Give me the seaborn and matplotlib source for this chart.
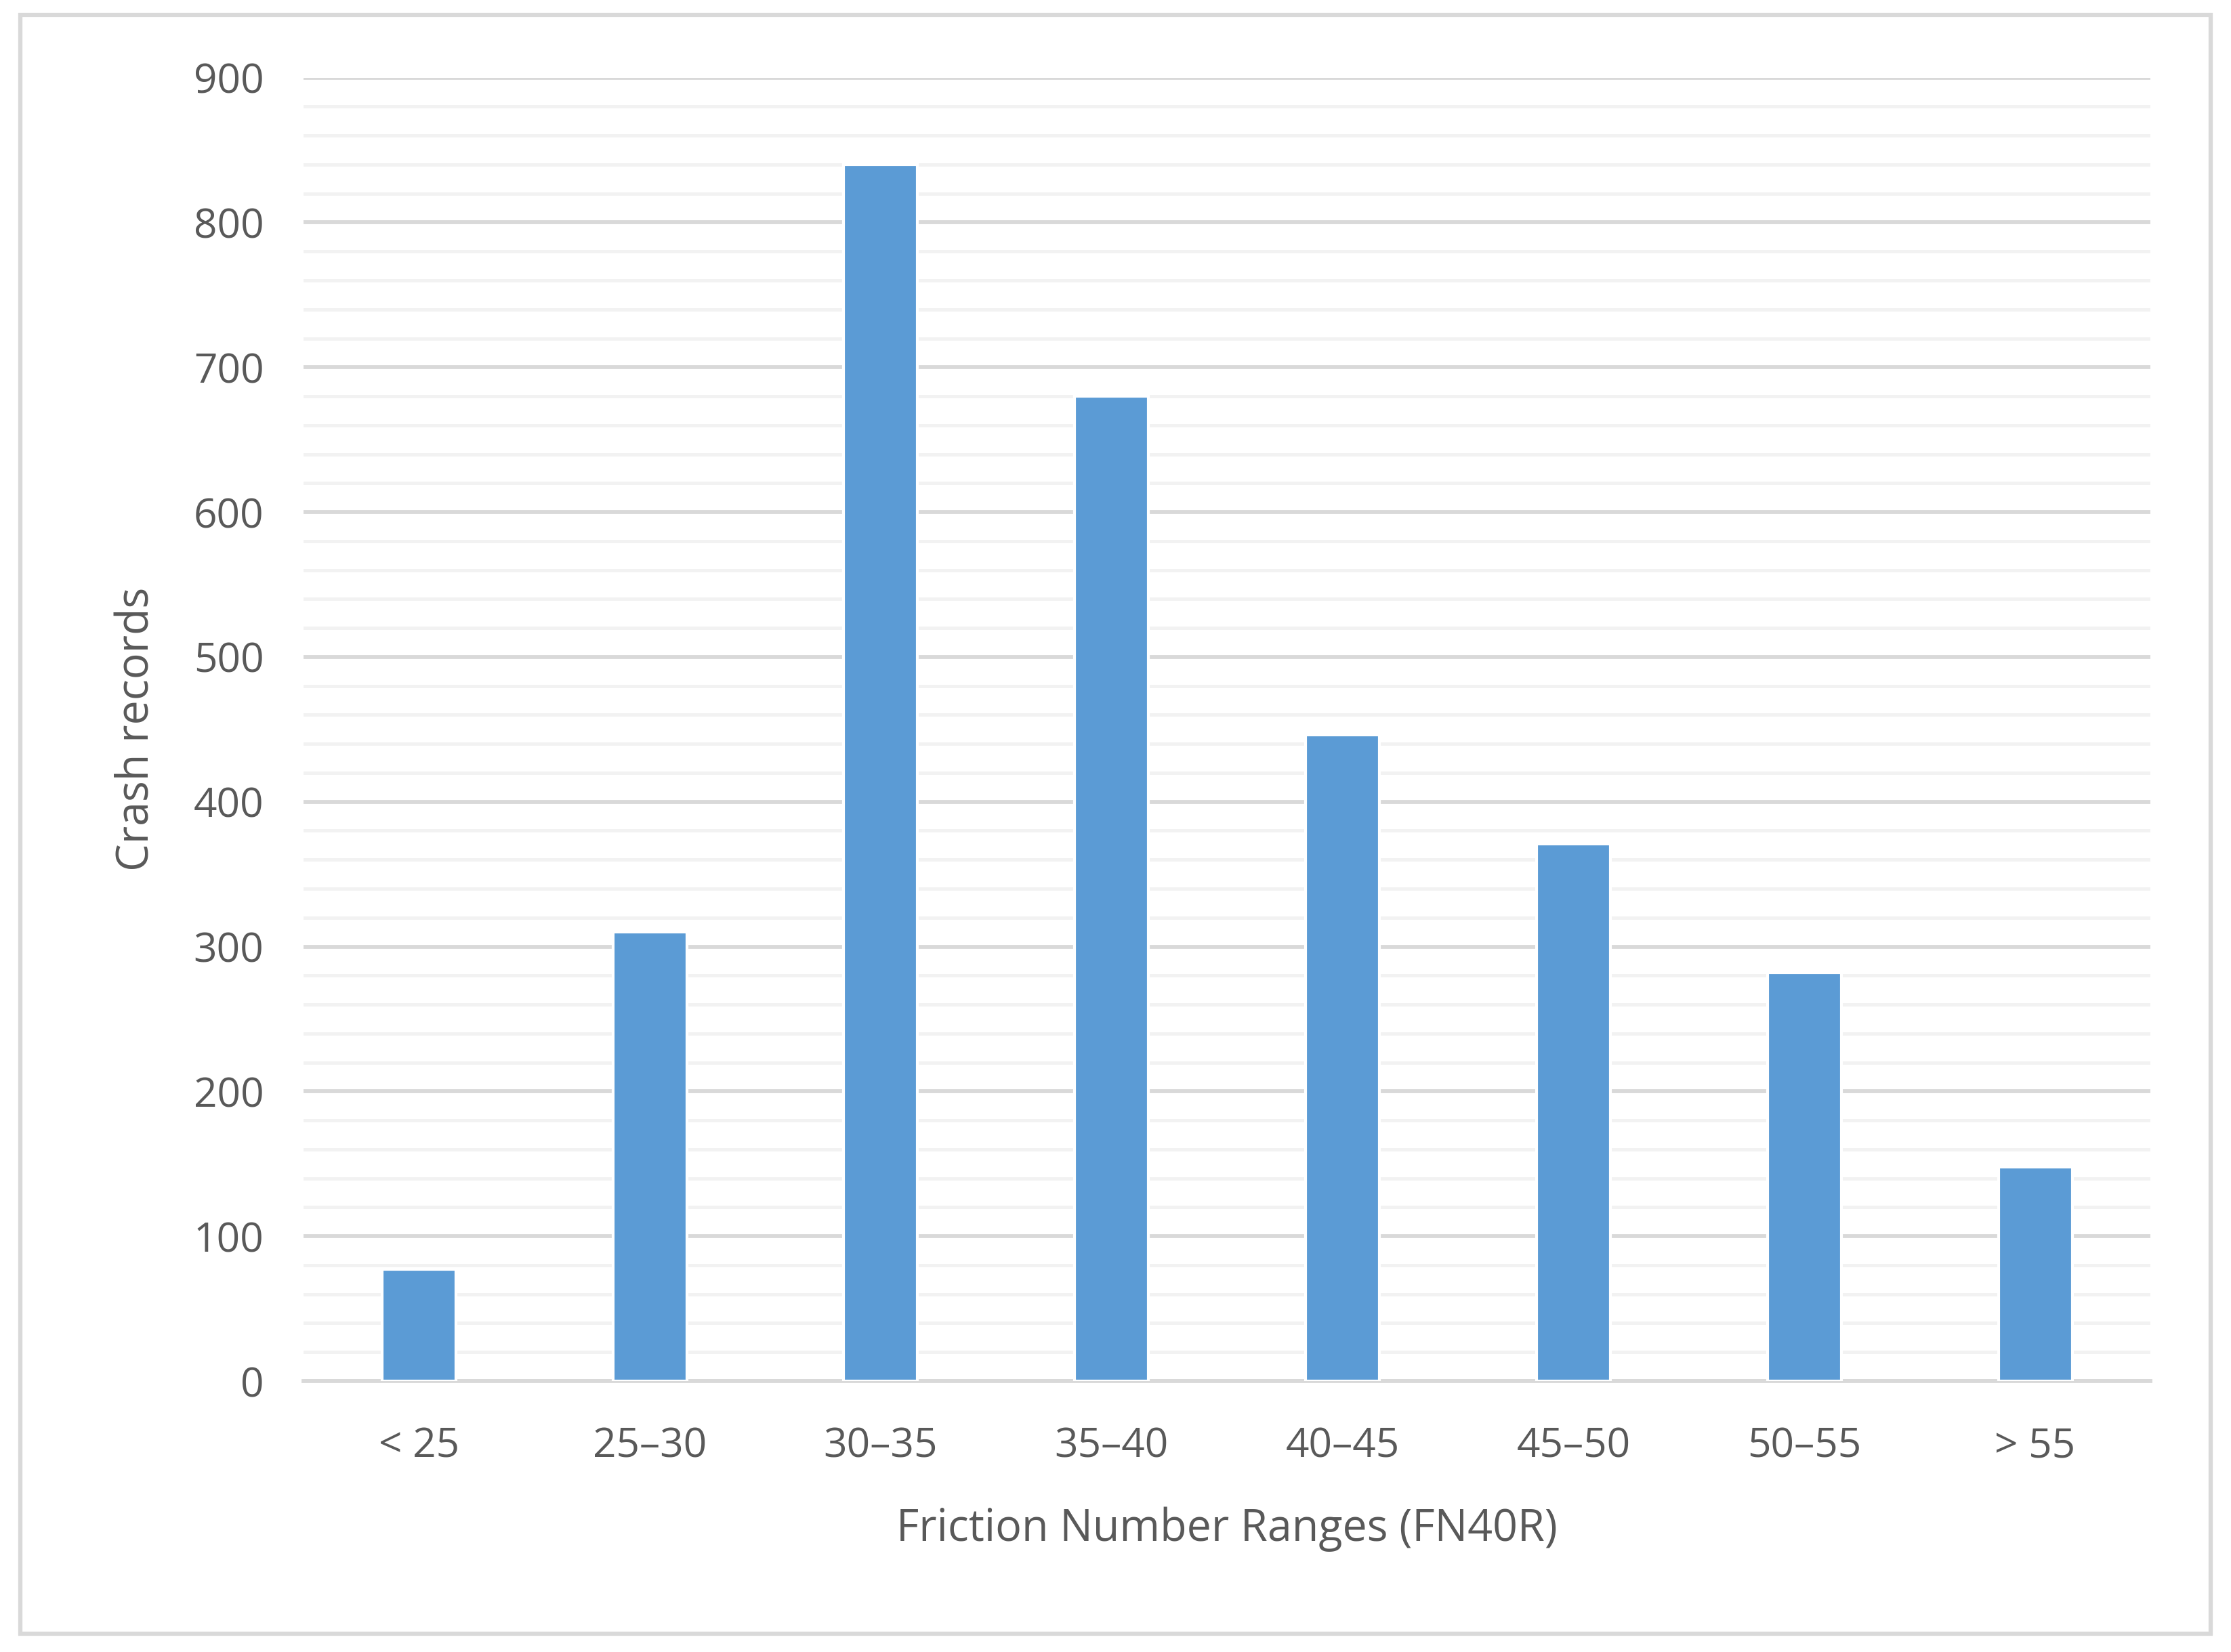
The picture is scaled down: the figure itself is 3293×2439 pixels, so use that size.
import matplotlib
matplotlib.use("Agg")
import matplotlib.pyplot as plt
import seaborn as sns
import pandas as pd
from matplotlib.ticker import MultipleLocator
from matplotlib.patches import Rectangle

# values
ranges = ["< 25", "25\u201330", "30\u201335", "35\u201340", "40\u201345", "45\u201350", "50\u201355", "> 55"]
crashes = [77, 310, 840, 680, 446, 371, 282, 148]

df = pd.DataFrame({"range": ranges, "crashes": crashes})

sns.set_style("white")
plt.rcParams["font.family"] = ["Open Sans", "DejaVu Sans"]
text_col = "#595959"

fig = plt.figure(figsize=(3293 / 300, 2439 / 300), dpi=300)
ax = fig.add_axes([0.136, 0.164, 0.828, 0.789])

sns.barplot(data=df, x="range", y="crashes", color="#5B9BD5", width=0.32,
            saturation=1, ax=ax, zorder=3)

ax.set_ylim(0, 900)
ax.yaxis.set_major_locator(MultipleLocator(100))
ax.yaxis.set_minor_locator(MultipleLocator(20))
ax.grid(which="major", axis="y", color="#D9D9D9", linewidth=1.4, zorder=0)
ax.grid(which="minor", axis="y", color="#F2F2F2", linewidth=1.2, zorder=0)
ax.set_axisbelow(True)
for s in ["top", "right", "left"]:
    ax.spines[s].set_visible(False)
ax.spines["bottom"].set_color("#D9D9D9")
ax.spines["bottom"].set_linewidth(1.4)

ax.tick_params(axis="y", which="both", length=0, labelsize=14.5, colors=text_col, pad=14)
ax.tick_params(axis="x", which="both", length=0, labelsize=14.5, colors=text_col, pad=16)
ax.set_xlabel("Friction Number Ranges (FN40R)", fontsize=15.5, color=text_col, labelpad=14)
ax.set_ylabel("Crash records", fontsize=15.5, color=text_col, labelpad=12)

# outer frame
fig.patches.append(Rectangle((0.009, 0.011), 0.982, 0.98, transform=fig.transFigure,
                             fill=False, edgecolor="#D9D9D9", linewidth=1.5))

fig.savefig("out.png", dpi=300)
